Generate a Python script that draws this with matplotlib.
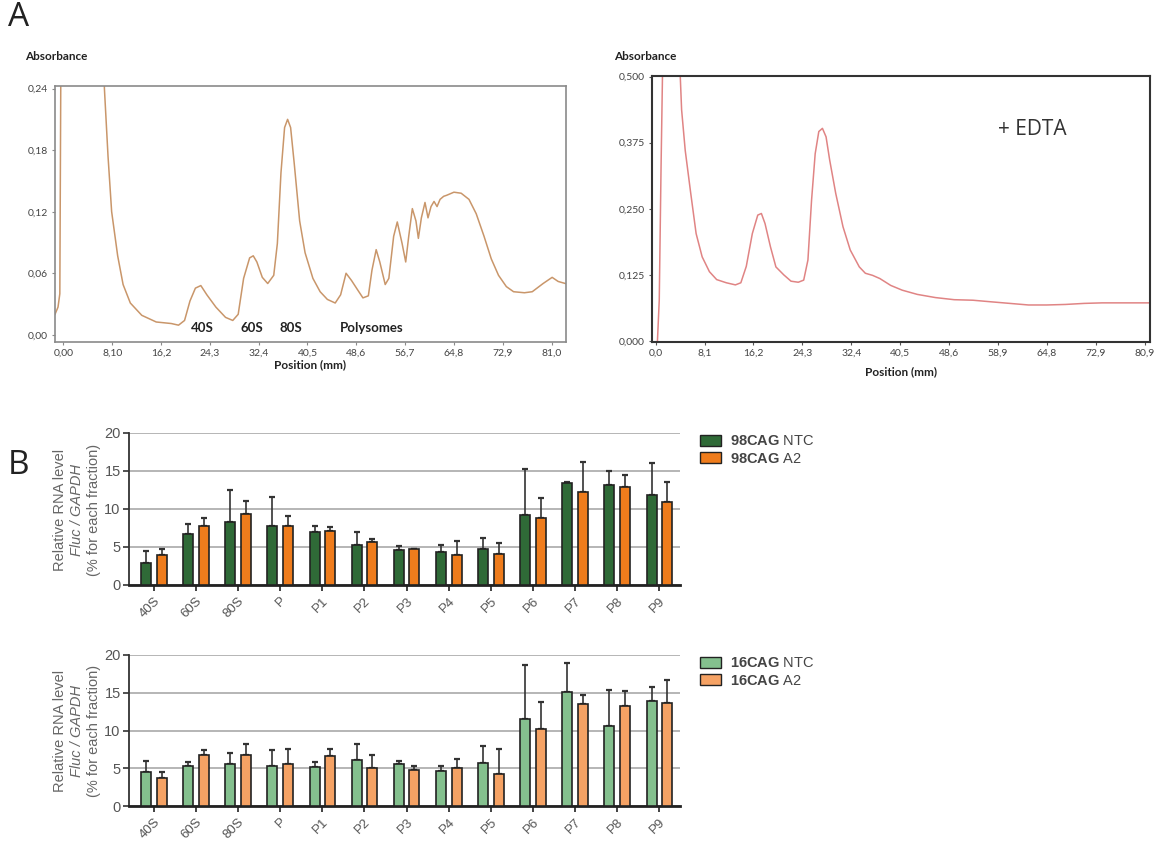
import numpy as np
import matplotlib
matplotlib.use("Agg")
import matplotlib.pyplot as plt
from matplotlib.patches import Patch

# ---------------- data ----------------
# Panel A left: polysome profile (position mm, absorbance)
left_pos = [-1.4, -0.9, -0.6, -0.4, 6.6, 6.8, 7.4, 8.0, 9.0, 9.9, 11.1, 13.0, 15.4, 17.9,
            19.1, 20.1, 21.0, 21.9, 22.8, 23.8, 25.3, 26.9, 28.1, 29.0, 29.9, 30.9, 31.5,
            32.1, 33.0, 33.9, 34.9, 35.5, 36.1, 36.7, 37.2, 37.7, 38.3, 39.2, 40.1, 41.4,
            42.6, 43.8, 45.1, 46.0, 46.9, 47.8, 48.8, 49.7, 50.6, 51.2, 51.9, 52.5, 53.4,
            54.0, 54.8, 55.4, 56.2, 56.8, 57.3, 57.9, 58.5, 58.9, 59.4, 60.0, 60.5, 61.0,
            61.5, 62.0, 62.5, 63.1, 63.6, 64.8, 66.0, 67.3, 68.5, 69.8, 71.0, 72.2, 73.5,
            74.7, 76.5, 77.8, 79.6, 81.1, 82.1, 83.3]
left_abs = [0.020, 0.027, 0.040, 0.300, 0.300, 0.240, 0.174, 0.120, 0.077, 0.049, 0.031,
            0.019, 0.0125, 0.011, 0.0094, 0.014, 0.033, 0.0455, 0.048, 0.039, 0.027, 0.017,
            0.014, 0.020, 0.055, 0.075, 0.077, 0.071, 0.056, 0.050, 0.058, 0.089, 0.158,
            0.202, 0.210, 0.202, 0.167, 0.111, 0.080, 0.055, 0.042, 0.0345, 0.031, 0.039,
            0.060, 0.053, 0.044, 0.036, 0.038, 0.063, 0.083, 0.071, 0.049, 0.055, 0.096,
            0.110, 0.089, 0.071, 0.096, 0.123, 0.111, 0.094, 0.114, 0.129, 0.114, 0.125,
            0.130, 0.125, 0.132, 0.135, 0.136, 0.139, 0.138, 0.132, 0.118, 0.096, 0.074,
            0.058, 0.047, 0.042, 0.041, 0.042, 0.050, 0.056, 0.052, 0.050]

# Panel A right: + EDTA profile
right_pos = [0.3, 0.6, 0.9, 1.2, 3.9, 4.3, 4.9, 5.8, 6.7, 7.7, 8.9, 10.1, 11.7, 13.2, 14.1,
             15.0, 16.0, 16.9, 17.5, 18.1, 19.0, 19.9, 21.2, 22.4, 23.6, 24.5, 25.2, 25.8,
             26.4, 27.0, 27.6, 28.2, 28.8, 29.8, 31.0, 32.2, 33.7, 34.7, 35.9, 37.1, 38.9,
             40.8, 43.3, 46.3, 49.4, 52.5, 55.5, 58.6, 61.7, 64.7, 67.8, 70.9, 73.9, 77.0,
             81.8]
right_abs = [0.0, 0.077, 0.33, 0.55, 0.55, 0.437, 0.36, 0.28, 0.203, 0.159, 0.131, 0.116,
             0.110, 0.106, 0.110, 0.141, 0.203, 0.238, 0.241, 0.222, 0.178, 0.140, 0.125,
             0.113, 0.111, 0.115, 0.153, 0.266, 0.354, 0.396, 0.402, 0.386, 0.342, 0.279,
             0.216, 0.172, 0.140, 0.128, 0.124, 0.118, 0.105, 0.096, 0.088, 0.082, 0.078,
             0.077, 0.074, 0.071, 0.068, 0.068, 0.069, 0.071, 0.072, 0.072, 0.072]

left_xticklabels = ["0,00", "8,10", "16,2", "24,3", "32,4", "40,5", "48,6", "56,7", "64,8", "72,9", "81,0"]
left_yticklabels = ["0,00", "0,06", "0,12", "0,18", "0,24"]
right_xticklabels = ["0,0", "8,1", "16,2", "24,3", "32,4", "40,5", "48,6", "58,9", "64,8", "72,9", "80,9"]
right_yticklabels = ["0,000", "0,125", "0,250", "0,375", "0,500"]

peak_labels = ["40S", "60S", "80S", "Polysomes"]
peak_pos = [23.0, 31.2, 37.8, 51.2]

# Panel B
fractions = ["40S", "60S", "80S", "P", "P1", "P2", "P3", "P4", "P5", "P6", "P7", "P8", "P9"]

cag98_ntc = [2.9, 6.7, 8.3, 7.7, 7.0, 5.3, 4.55, 4.4, 4.8, 9.2, 13.4, 13.2, 11.9]
cag98_ntc_top = [4.5, 8.0, 12.5, 11.6, 7.7, 7.0, 5.1, 5.2, 6.2, 15.3, 13.5, 15.05, 16.06]
cag98_a2 = [4.0, 7.75, 9.3, 7.8, 7.1, 5.7, 4.7, 4.0, 4.1, 8.8, 12.25, 12.9, 10.94]
cag98_a2_top = [4.8, 8.8, 11.1, 9.1, 7.6, 6.1, 4.8, 5.8, 5.5, 11.5, 16.15, 14.5, 13.5]

cag16_ntc = [4.5, 5.35, 5.5, 5.25, 5.2, 6.1, 5.5, 4.6, 5.74, 11.5, 15.1, 10.65, 13.9]
cag16_ntc_top = [6.0, 5.8, 7.0, 7.4, 5.8, 8.2, 5.95, 5.35, 8.0, 18.7, 18.9, 15.3, 15.7]
cag16_a2 = [3.75, 6.75, 6.75, 5.5, 6.6, 5.05, 4.8, 5.0, 4.2, 10.2, 13.5, 13.26, 13.65]
cag16_a2_top = [4.5, 7.4, 8.2, 7.5, 7.6, 6.75, 5.3, 6.25, 7.5, 13.8, 14.65, 15.2, 16.65]

# ---------------- styling ----------------
plt.rcParams['mathtext.fontset'] = 'custom'
plt.rcParams['mathtext.bf'] = 'Liberation Sans:bold'
plt.rcParams['mathtext.rm'] = 'Liberation Sans'

W, H = 1166, 843
fig = plt.figure(figsize=(W / 100, H / 100), dpi=100)

calib = 'Lato'
tick_col = '#444444'

def frac(l, t, r, b):
    return [l / W, 1 - b / H, (r - l) / W, (b - t) / H]

# ----- Panel A left -----
ax1 = fig.add_axes(frac(55, 86, 566, 342))
ax1.plot(left_pos, left_abs, color='#c9966a', lw=1.1)
ax1.set_xlim(-1.4, 83.4)
ax1.set_ylim(-0.007, 0.2425)
ax1.set_xticks([8.1 * i for i in range(11)])
ax1.set_xticklabels(left_xticklabels)
ax1.set_yticks([0, 0.06, 0.12, 0.18, 0.24])
ax1.set_yticklabels(left_yticklabels)
for s in ax1.spines.values():
    s.set_color('#8a8a8a')
    s.set_linewidth(1.2)
ax1.tick_params(length=2, color='#8a8a8a', labelsize=7.5, labelcolor=tick_col, pad=3)
for lab in ax1.get_xticklabels() + ax1.get_yticklabels():
    lab.set_family(calib)
ax1.set_xlabel('Position (mm)', fontsize=8.5, fontweight='bold', family=calib, labelpad=1, color='#222222')
fig.text(25 / W, 1 - 57 / H, 'Absorbance', fontsize=8.5, fontweight='bold', family=calib,
         va='center', ha='left', color='#222222')
for lab, p in zip(peak_labels, peak_pos):
    ax1.text(p, 0.0063, lab, fontsize=9.5, fontweight='bold', family=calib, ha='center',
             va='center', color='#222222')

# ----- Panel A right -----
ax2 = fig.add_axes(frac(652, 76, 1150, 342))
ax2.plot(right_pos, right_abs, color='#e08484', lw=1.1)
ax2.set_xlim(-0.6, 81.8)
ax2.set_ylim(-0.002, 0.501)
ax2.set_xticks([8.09 * i for i in range(11)])
ax2.set_xticklabels(right_xticklabels)
ax2.set_yticks([0, 0.125, 0.25, 0.375, 0.5])
ax2.set_yticklabels(right_yticklabels)
for s in ax2.spines.values():
    s.set_color('#333333')
    s.set_linewidth(1.5)
ax2.tick_params(length=2, color='#555555', labelsize=7.5, labelcolor=tick_col, pad=3)
for lab in ax2.get_xticklabels() + ax2.get_yticklabels():
    lab.set_family(calib)
ax2.set_xlabel('Position (mm)', fontsize=8.5, fontweight='bold', family=calib, labelpad=6, color='#222222')
fig.text(614 / W, 1 - 57 / H, 'Absorbance', fontsize=8.5, fontweight='bold', family=calib,
         va='center', ha='left', color='#222222')
ax2.text(62.3, 0.399, '+ EDTA', fontsize=15, family='Open Sans', ha='center', va='center',
         color='#333333')

fig.text(8 / W, 1 - 18 / H, 'A', fontsize=24, family='Open Sans', va='center', ha='left', color='#222222')
fig.text(8 / W, 1 - 466 / H, 'B', fontsize=24, family='Open Sans', va='center', ha='left', color='#222222')

# ----- Panel B -----
bw = 0.237
off = 0.186
x = np.arange(len(fractions))

def bar_panel(rect, ntc, ntc_top, a2, a2_top, c1, c2, lab1, lab2, ylab_center):
    ax = fig.add_axes(rect)
    ax.set_axisbelow(True)
    ax.yaxis.grid(True, color='#b0b0b0', lw=1.3)
    ax.bar(x - off, ntc, bw, color=c1, edgecolor='#222222', lw=1.2, zorder=3)
    ax.bar(x + off, a2, bw, color=c2, edgecolor='#222222', lw=1.2, zorder=3)
    ntc_e = np.array(ntc_top) - np.array(ntc)
    a2_e = np.array(a2_top) - np.array(a2)
    ax.errorbar(x - off, ntc, yerr=[np.zeros(len(x)), ntc_e], fmt='none', ecolor='#333333',
                elinewidth=1.2, capsize=2.5, capthick=1.6, zorder=2)
    ax.errorbar(x + off, a2, yerr=[np.zeros(len(x)), a2_e], fmt='none', ecolor='#333333',
                elinewidth=1.2, capsize=2.5, capthick=1.6, zorder=2)
    ax.set_xlim(-0.59, 12.49)
    ax.set_ylim(0, 20)
    ax.set_yticks([0, 5, 10, 15, 20])
    ax.set_xticks(x)
    ax.set_xticklabels(fractions, rotation=45, ha='right', rotation_mode='anchor')
    for s in ['top', 'right']:
        ax.spines[s].set_visible(False)
    ax.spines['left'].set_color('#333333')
    ax.spines['left'].set_linewidth(1.3)
    ax.spines['bottom'].set_color('#222222')
    ax.spines['bottom'].set_linewidth(2.0)
    ax.tick_params(axis='y', length=4, width=1.2, color='#333333', labelsize=10.5,
                   labelcolor='#555555', pad=2)
    ax.tick_params(axis='x', length=4, width=1.3, color='#333333', labelsize=9.5,
                   labelcolor='#555555', pad=3)
    for lab in ax.get_xticklabels() + ax.get_yticklabels():
        lab.set_family('Liberation Sans')
    ax.grid(False, axis='x')
    handles = [Patch(facecolor=c1, edgecolor='#222222', lw=1.0),
               Patch(facecolor=c2, edgecolor='#222222', lw=1.0)]
    leg = ax.legend(handles, [lab1, lab2], loc='upper left', bbox_to_anchor=(1.025, 1.03),
                    frameon=False, fontsize=10.5, handlelength=1.5, handleheight=0.8,
                    handletextpad=0.6, labelspacing=0.25, borderaxespad=0)
    for t in leg.get_texts():
        t.set_color('#444444')
        t.set_family('Liberation Sans')
    # y-label lines
    yc = 1 - ylab_center / H
    fig.text(60 / W, yc, 'Relative RNA level', rotation=90, fontsize=10.5, color='#666666',
             family='Liberation Sans', ha='center', va='center')
    fig.text(77 / W, yc, 'Fluc / GAPDH', rotation=90, fontsize=10.5, color='#666666',
             family='Liberation Sans', style='italic', ha='center', va='center')
    fig.text(94 / W, yc, '(% for each fraction)', rotation=90, fontsize=10.5, color='#666666',
             family='Liberation Sans', ha='center', va='center')
    return ax

bar_panel(frac(129, 433, 680, 585), cag98_ntc, cag98_ntc_top, cag98_a2, cag98_a2_top,
          '#2f6a37', '#ef7c1c', r'$\mathbf{98CAG}$ NTC', r'$\mathbf{98CAG}$ A2', 510)
bar_panel(frac(129, 655, 680, 806), cag16_ntc, cag16_ntc_top, cag16_a2, cag16_a2_top,
          '#84c08e', '#f5a264', r'$\mathbf{16CAG}$ NTC', r'$\mathbf{16CAG}$ A2', 731)

fig.savefig('out.png', dpi=100)
